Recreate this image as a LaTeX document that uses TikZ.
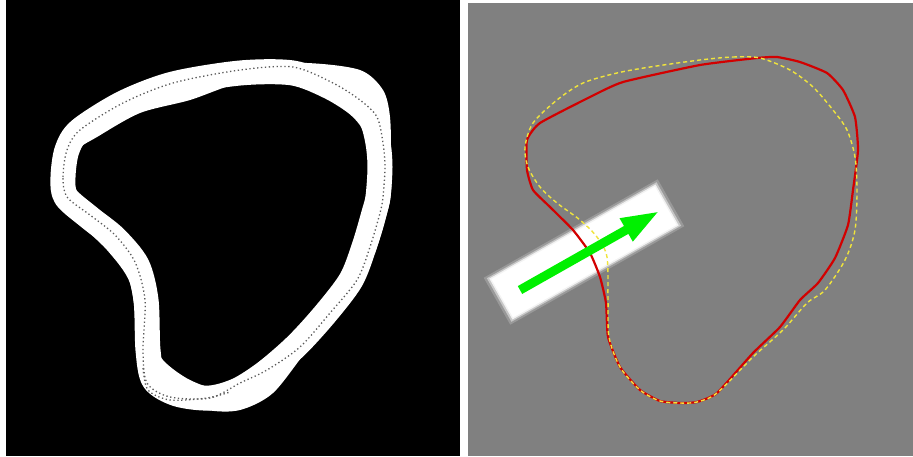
\documentclass[tikz,border=0pt]{standalone}
\definecolor{panelgray}{RGB}{128,128,128}
\definecolor{curvered}{RGB}{210,0,0}
\definecolor{curveyel}{RGB}{240,228,60}
\definecolor{arrowgreen}{RGB}{0,240,0}
\definecolor{dotgray}{RGB}{90,90,90}
\begin{document}
\begin{tikzpicture}[x=1pt,y=-1pt,line join=round,
  dotline/.style={draw=dotgray,line width=1.3pt,dash pattern=on 1.3pt off 2.6pt},
  bandline/.style={draw=white,line width=25pt},
  redline/.style={draw=curvered,line width=2.2pt},
  yelline/.style={draw=curveyel,line width=1.4pt,dash pattern=on 4pt off 3pt}]
\useasboundingbox (0,0) rectangle (913,456);
\fill[white] (0,0) rectangle (913,456);
% left panel
\fill[black] (6,0) rectangle (460,456);
\fill[white,even odd rule]
 plot[smooth cycle,tension=0.5] coordinates {
 (53,170) (63,133) (83,117) (140,87) (190,70) (240,65) (307,63) (360,70) (383,90) (390,117) (391,160) (390,200) (373,257) (340,310) (307,350) (273,393) (240,410) (207,410) (167,397) (143,370) (137,333) (130,283) (107,250) (73,217) (57,190)}
 plot[smooth cycle,tension=0.5] coordinates {
 (70,170) (77,150) (97,137) (140,113) (190,100) (240,83) (290,82) (330,90) (357,117) (370,150) (371,175) (370,200) (357,250) (323,307) (290,350) (257,380) (223,390) (190,380) (163,360) (150,333) (147,283) (130,257) (107,237) (83,210) (73,190)};
\path[bandline] plot[smooth cycle,tension=0.5] coordinates {
 (66,197) (63,177) (67,150) (80,130) (123,103) (173,84) (240,73) (293,73) (330,87) (357,104) (372,121) (378,143) (380,167) (378,197) (374,213) (364,247) (351,280) (326,313) (297,345) (266,372) (238,390) (210,398) (177,394) (154,380) (148,350) (146,300) (137,265) (115,238) (90,218)};
\path[dotline] plot[smooth cycle,tension=0.5] coordinates {
 (67,197) (63,177) (67,150) (80,130) (123,103) (173,83) (240,70) (293,67) (333,83) (360,100) (377,117) (383,143) (385,167) (383,197) (380,213) (370,247) (357,280) (330,313) (300,347) (267,370) (240,383) (210,398) (170,397) (147,383) (143,350) (145,300) (135,262) (115,235) (90,215)};
\path[dotline] plot[smooth,tension=0.5] coordinates {(143,368) (148,390) (170,400) (207,398) (230,392)};
% right panel
\fill[panelgray] (468,3) rectangle (913,456);
\begin{scope}[shift={(584,252)},rotate=29.5]
 \fill[white,opacity=0.2] (-100,-27) rectangle (100,27);
 \fill[white,opacity=0.45] (-97.5,-25) rectangle (97.5,25);
 \fill[white,opacity=0.8] (-95.5,-23.5) rectangle (95.5,23.5);
 \fill[white] (-94,-22) rectangle (94,22);
\end{scope}
\path[redline] plot[smooth cycle,tension=0.3] coordinates {
 (527,170) (527,140) (540,123) (590,97) (623,82) (700,65) (757,58) (777,57) (800,62) (827,73) (843,90) (855,117) (858,150) (853,190) (848,225) (835,258) (818,283) (800,300) (780,327) (753,353) (717,393) (697,402) (680,403) (660,401) (640,390) (620,367) (608,337) (606,303) (600,277) (590,253) (573,230) (550,207) (533,190)};
\path[yelline] plot[smooth cycle,tension=0.5] coordinates {
 (700,60) (733,57) (760,58) (790,70) (813,87) (833,110) (847,130) (855,157) (857,190) (855,230) (845,260) (825,290) (807,303) (783,330) (753,357) (717,393) (697,402) (680,403) (660,401) (640,390) (620,367) (609,337) (608,300) (607,257) (597,237) (580,220) (557,203) (540,187) (528,167) (525,147) (533,123) (557,100) (583,83) (617,73) (650,67)};
\begin{scope}[shift={(520,290)},rotate=29.5]
 \fill[arrowgreen] (0,-4.5) -- (122,-4.5) -- (122,-13.5) -- (158,0) -- (122,13.5) -- (122,4.5) -- (0,4.5) -- cycle;
\end{scope}
\end{tikzpicture}
\end{document}
